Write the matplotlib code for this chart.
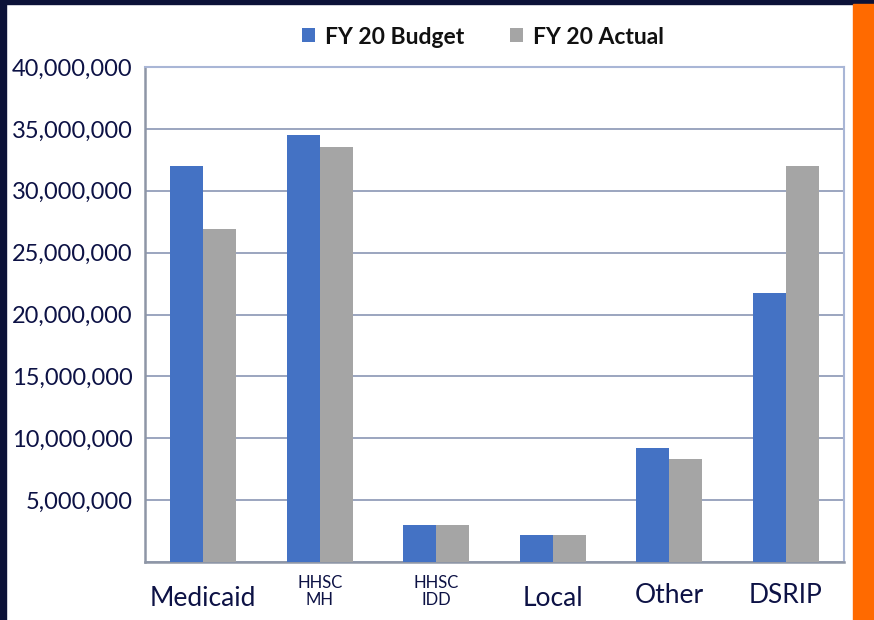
import matplotlib
matplotlib.use("Agg")
import matplotlib.pyplot as plt
import matplotlib.patches as mpatches
from matplotlib.ticker import FuncFormatter, MultipleLocator
import numpy as np

categories = ["Medicaid", "HHSC\nMH", "HHSC\nIDD", "Local", "Other", "DSRIP"]
budget = [32.0e6, 34.5e6, 3.0e6, 2.2e6, 9.2e6, 21.7e6]
actual = [26.9e6, 33.5e6, 3.0e6, 2.2e6, 8.3e6, 32.0e6]
series_names = ["FY 20 Budget", "FY 20 Actual"]
label_sizes = [19, 12, 12, 19, 19, 19]
label_offsets = [-17, -9, -9, -17, -15, -15]

W, H = 874, 620
fig = plt.figure(figsize=(W / 100, H / 100), dpi=100)
fig.patch.set_facecolor("white")

# frame decorations
navy = "#0c1238"
fig.add_artist(mpatches.Rectangle((0, 0), 6 / W, 1, transform=fig.transFigure, color=navy, zorder=0))
fig.add_artist(mpatches.Rectangle((0, 1 - 4 / H), 1, 4 / H, transform=fig.transFigure, color=navy, zorder=0))
fig.add_artist(mpatches.Rectangle((853 / W, 0), (W - 853) / W, 1 - 4 / H, transform=fig.transFigure,
                                  color="#ff6a00", zorder=0))

left, right, top, bottom = 145, 844, 67, 562
ax = fig.add_axes([left / W, 1 - bottom / H, (right - left) / W, (bottom - top) / H])

x = np.arange(len(categories))
bw = 0.283
blue = "#4472c4"
gray = "#a5a5a5"
ax.bar(x - bw / 2, budget, bw, color=blue, zorder=3, label=series_names[0])
ax.bar(x + bw / 2, actual, bw, color=gray, zorder=3, label=series_names[1])

ax.set_xlim(-0.5, len(categories) - 0.5)
ax.set_ylim(0, 40e6)
ax.yaxis.set_major_locator(MultipleLocator(5e6))
ax.yaxis.set_major_formatter(FuncFormatter(lambda v, p: "" if v == 0 else f"{int(v):,}"))
ax.grid(axis="y", color="#8a96b4", linewidth=1.2, zorder=1)

textc = "#0d1245"
ax.tick_params(axis="y", length=0, pad=9, labelsize=17, labelcolor=textc)
for lab in ax.get_yticklabels():
    lab.set_fontfamily("Lato")
ax.set_xticks(x)
ax.set_xticklabels([])
ax.tick_params(axis="x", length=0)
for i, (c, s, o) in enumerate(zip(categories, label_sizes, label_offsets)):
    ax.annotate(c, xy=(x[i], 0), xycoords=("data", "axes fraction"),
                xytext=(0, o), textcoords="offset points",
                ha="center", va="top", fontsize=s, color=textc, family="Lato",
                linespacing=1.1)

for side in ["top", "right"]:
    ax.spines[side].set_color("#a9b6d6")
    ax.spines[side].set_linewidth(1.5)
for side in ["left", "bottom"]:
    ax.spines[side].set_color("#8e96a6")
    ax.spines[side].set_linewidth(1.8)

leg = fig.legend(loc="center", bbox_to_anchor=(483 / W, 1 - 37 / H), ncol=2, frameon=False,
                 prop={"family": "Lato", "weight": "bold", "size": 16.5},
                 handlelength=0.55, handleheight=0.55, handletextpad=0.45, columnspacing=2.0)
for t in leg.get_texts():
    t.set_color("#111111")

fig.savefig("out.png", dpi=100, facecolor=fig.get_facecolor())
